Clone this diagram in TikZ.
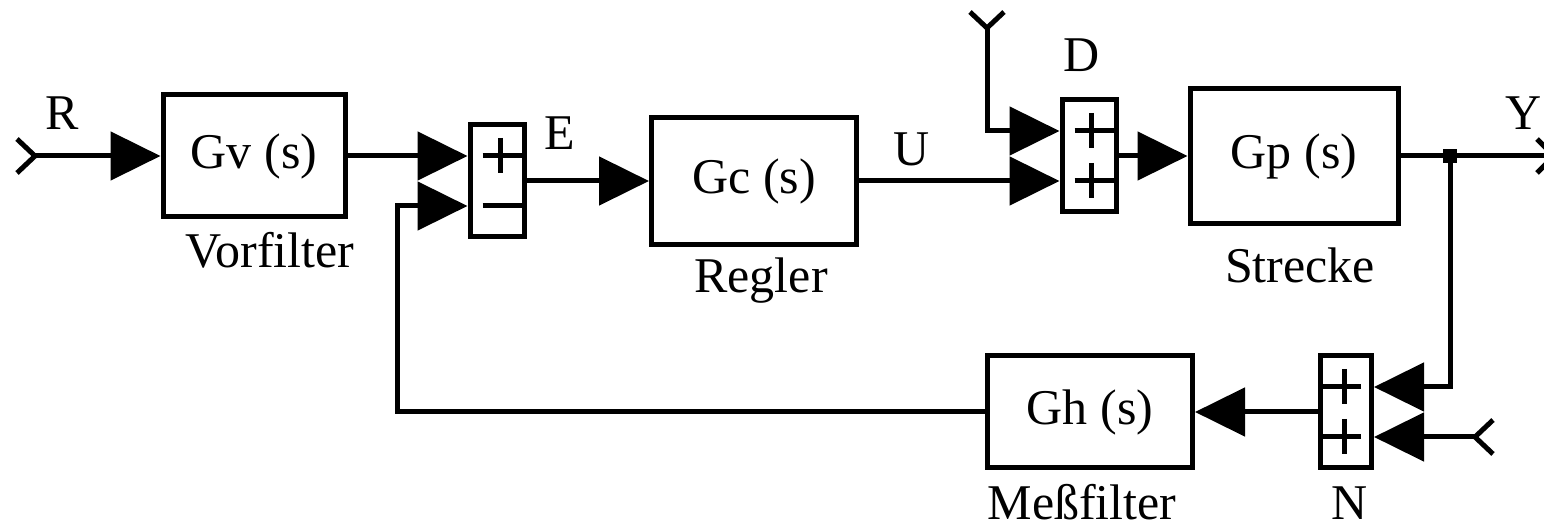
\documentclass[tikz,border=0pt]{standalone}
\usepackage{fontspec}
\setmainfont{Liberation Serif}
\usetikzlibrary{arrows.meta,calc}

\begin{document}
\begin{tikzpicture}[
  x=0.5pt, y=-0.5pt, line width=2.5pt,
  blk/.style={draw, rectangle, inner sep=0pt,
              font=\fontsize{25}{29}\selectfont},
  sumbox/.style={draw, rectangle, inner sep=0pt,
                 minimum width=27pt, minimum height=56pt},
  lbl/.style={font=\fontsize{25}{29}\selectfont, inner sep=0pt, anchor=base},
  sig/.style={-{Triangle[length=25pt,width=24pt]}}
]
\useasboundingbox (0,0) rectangle (1544,529);

%% Blocks
\node[blk, minimum width=91pt,   minimum height=61pt]   (gv) at (254,156)  {Gv (s)};
\node[blk, minimum width=102.5pt, minimum height=63.5pt] (gc) at (754,181)  {Gc (s)};
\node[blk, minimum width=104pt,  minimum height=67.5pt] (gp) at (1294,156) {Gp (s)};
\node[blk, minimum width=102.5pt, minimum height=56pt]  (gh) at (1090,412) {Gh (s)};

%% Summing points
\node[sumbox] (s1) at (497,181) {};
\node[sumbox] (s2) at (1089,156) {};
\node[sumbox, minimum width=25.5pt] (s3) at (1346,412) {};

%% Labels
\node[lbl] (rlab) at (62,130)  {R};
\node[lbl] (elab) at (560,150) {E};
\node[lbl] (ulab) at (912,166) {U};
\node[lbl] (dlab) at (1082,72) {D};
\node[lbl] (ylab) at (1524,130) {Y};
\node[lbl] (vfl)  at (270,268) {Vorfilter};
\node[lbl] (rgl)  at (761,293) {Regler};
\node[lbl] (stl)  at (1300,283) {Strecke};
\node[lbl] (mfl)  at (1082,520) {Meßfilter};
\node[lbl] (nlab) at (1350,520) {N};

%% Free ends
\coordinate (rin)  at (35,156);
\coordinate (din)  at (987,28);
\coordinate (nin)  at (1475,437);
\coordinate (yout) at (1554,156);
\coordinate (fbk)  at (397,412);
\node[fill, minimum size=7pt, inner sep=0pt] (split) at (1450,156) {};

%% Chevrons
\draw (rin) ++(-18,-17) -- (rin) -- ++(-18,17);
\draw (din) ++(-17,-16) -- (din) -- ++(17,-16);
\draw (nin) ++(18,-17) -- (nin) -- ++(18,17);
\draw (yout) ++(-17,-17) -- (yout) -- ++(-17,17);

%% Signals
\draw[sig] (rin) -- (gv.west);
\draw[sig] (gv.east) -- ($(s1.west)+(0,-25)$);
\draw[sig] (s1.east) -- (gc.west);
\draw[sig] (gc.east) -- ($(s2.west)+(0,25)$);
\draw[sig] (din) |- ($(s2.west)+(0,-25)$);
\draw[sig] (s2.east) -- (gp.west);
\draw (gp.east) -- (yout);
\draw[sig] (split.center) |- ($(s3.east)+(0,-25)$);
\draw[sig] (nin) -- ($(s3.east)+(0,25)$);
\draw[sig] (s3.west) -- (gh.east);
\draw[sig] (gh.west) -- (fbk) |- ($(s1.west)+(0,25)$);

%% Signs
\draw ($(s1.west)+(15,-25)$) -- ($(s1.east)+(0,-25)$)
      ($(s1.west)+(33,-43)$) -- ($(s1.west)+(33,-8)$);
\draw ($(s1.west)+(15,25)$) -- ($(s1.east)+(0,25)$);
\foreach \dy in {-25,25}{
  \draw ($(s2.west)+(15,\dy)$) -- ($(s2.east)+(0,\dy)$)
        ($(s2.west)+(32,\dy-18)$) -- ($(s2.west)+(32,\dy+17)$);
  \draw ($(s3.east)+(-13,\dy)$) -- ($(s3.west)+(0,\dy)$)
        ($(s3.east)+(-30,\dy-18)$) -- ($(s3.east)+(-30,\dy+17)$);
}
\end{tikzpicture}
\end{document}
